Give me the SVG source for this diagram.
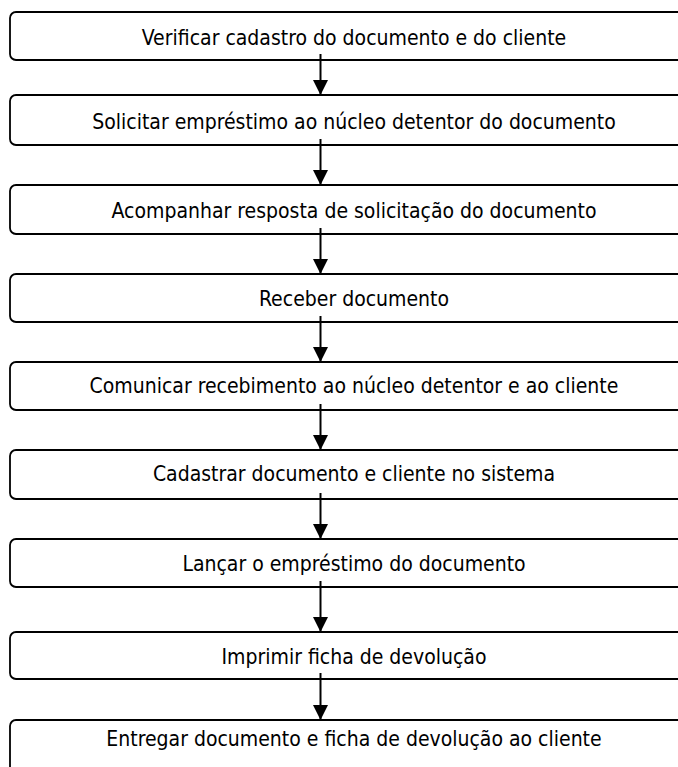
<svg xmlns="http://www.w3.org/2000/svg" width="678" height="767" viewBox="0 0 678 767">
<defs>
<style>
.box{fill:#fff;stroke:#000;stroke-width:1.8}
.lbl{font-family:"DejaVu Sans Condensed","DejaVu Sans",sans-serif;font-size:21px;fill:#000;text-anchor:middle}
.con{stroke:#000;stroke-width:2;fill:none;marker-end:url(#ah)}
</style>
<marker id="ah" markerUnits="userSpaceOnUse" markerWidth="16" markerHeight="16" refX="15" refY="7.5" orient="auto">
<path d="M0,0 L15,7.5 L0,15 Z" fill="#000"/>
</marker>
</defs>
<rect width="678" height="767" fill="#fff"/>
<g id="n1"><rect class="box" x="10" y="12" width="700" height="48" rx="6"/><text class="lbl" x="354" y="44.5">Verificar cadastro do documento e do cliente</text></g>
<g id="n2"><rect class="box" x="10" y="95" width="700" height="50" rx="6"/><text class="lbl" x="354" y="129">Solicitar empréstimo ao núcleo detentor do documento</text></g>
<g id="n3"><rect class="box" x="10" y="185" width="700" height="49" rx="6"/><text class="lbl" x="354" y="218">Acompanhar resposta de solicitação do documento</text></g>
<g id="n4"><rect class="box" x="10" y="274" width="700" height="48" rx="6"/><text class="lbl" x="354" y="306">Receber documento</text></g>
<g id="n5"><rect class="box" x="10" y="362" width="700" height="48" rx="6"/><text class="lbl" x="354" y="393">Comunicar recebimento ao núcleo detentor e ao cliente</text></g>
<g id="n6"><rect class="box" x="10" y="450" width="700" height="49" rx="6"/><text class="lbl" x="354" y="481">Cadastrar documento e cliente no sistema</text></g>
<g id="n7"><rect class="box" x="10" y="539" width="700" height="48" rx="6"/><text class="lbl" x="354" y="571">Lançar o empréstimo do documento</text></g>
<g id="n8"><rect class="box" x="10" y="632" width="700" height="47" rx="6"/><text class="lbl" x="354" y="664">Imprimir ficha de devolução</text></g>
<g id="n9"><rect class="box" x="10" y="720" width="700" height="60" rx="6"/><text class="lbl" x="354" y="746">Entregar documento e ficha de devolução ao cliente</text></g>
<g id="connectors">
<path class="con" d="M320.5,54 V95"/>
<path class="con" d="M320.5,139 V185"/>
<path class="con" d="M320.5,228 V274"/>
<path class="con" d="M320.5,316 V362"/>
<path class="con" d="M320.5,404 V450"/>
<path class="con" d="M320.5,493 V539"/>
<path class="con" d="M320.5,581 V632"/>
<path class="con" d="M320.5,673 V720"/>
</g>
</svg>
